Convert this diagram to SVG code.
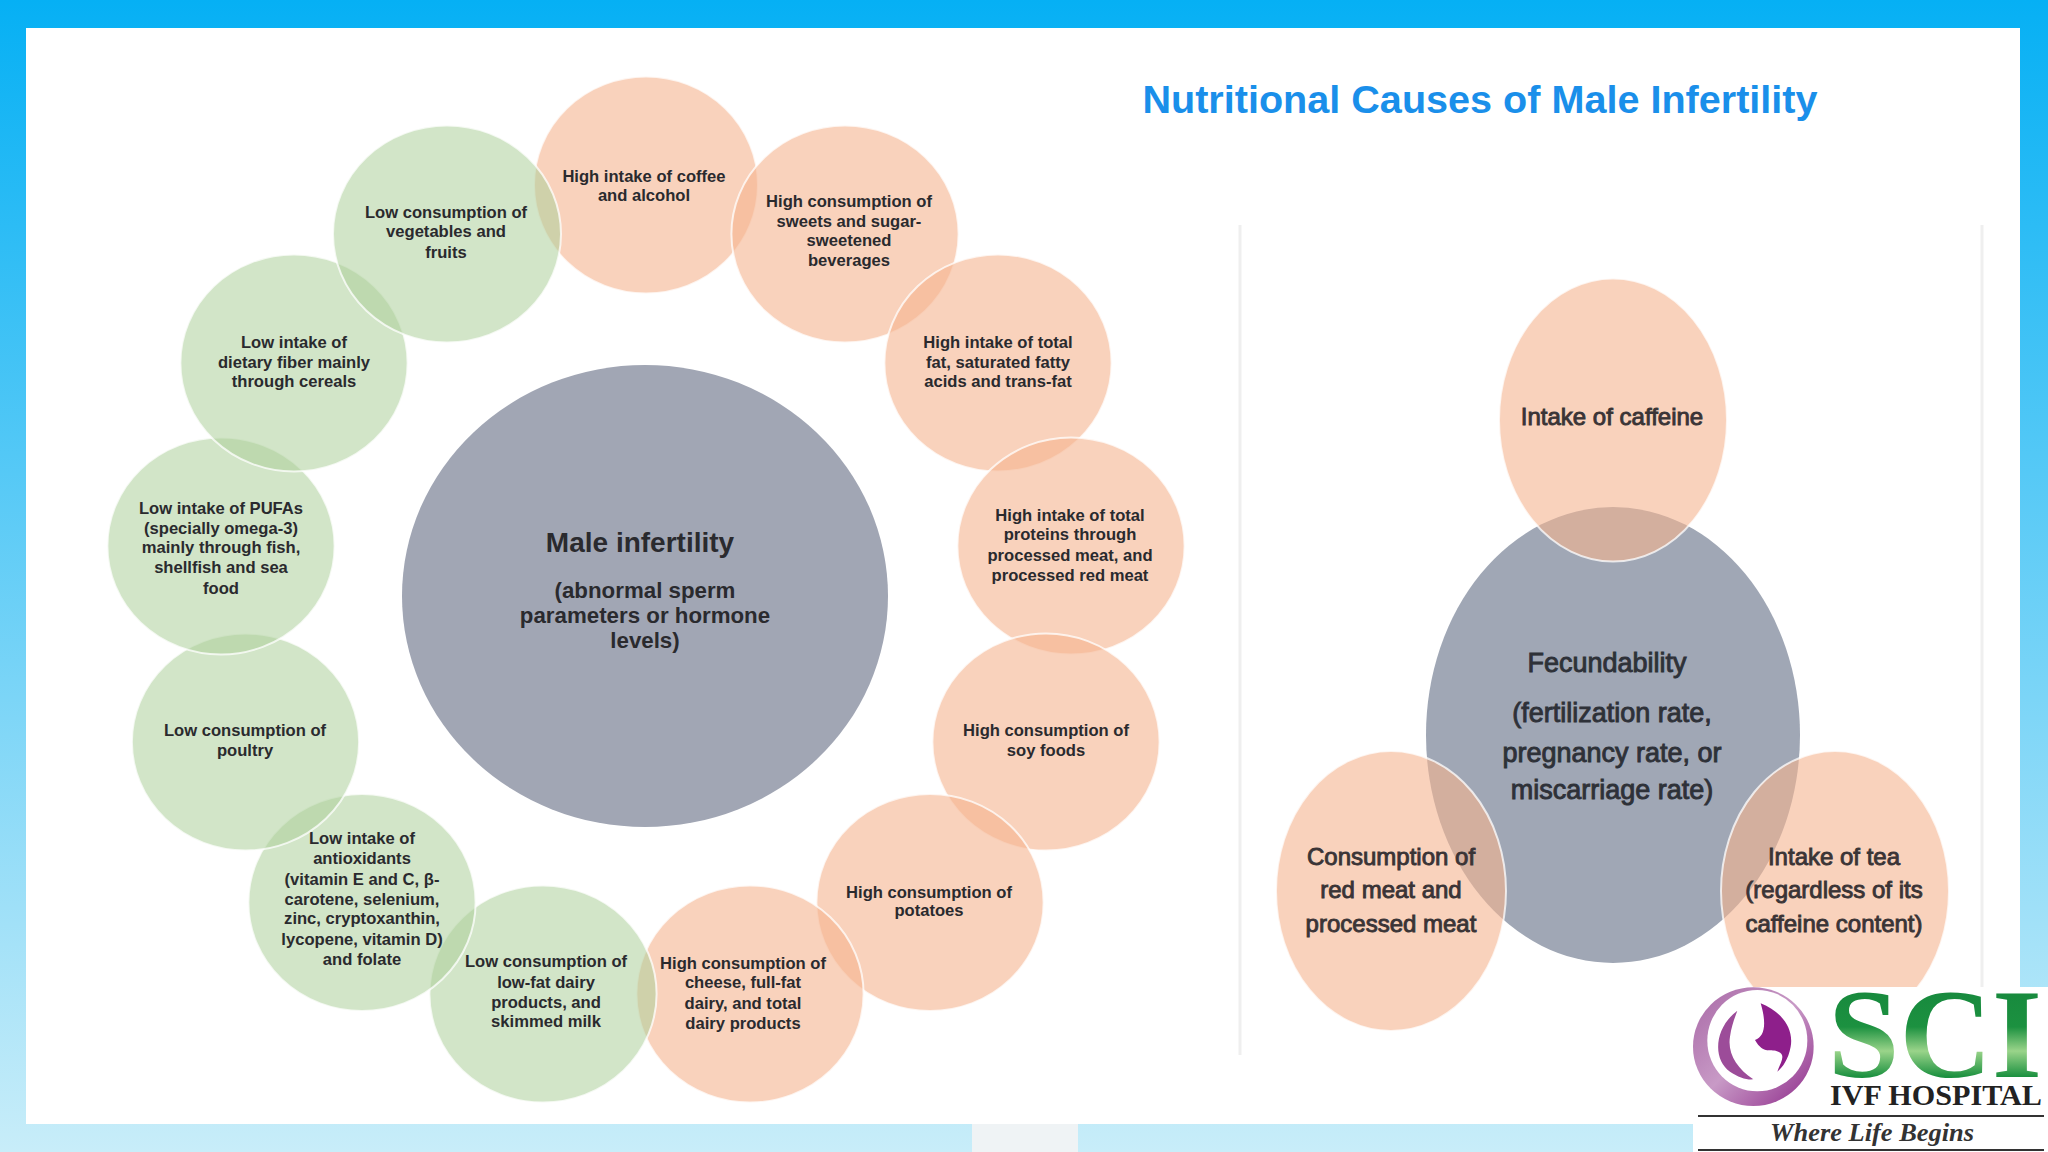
<svg xmlns="http://www.w3.org/2000/svg" width="2048" height="1152" viewBox="0 0 2048 1152">
<defs>
<linearGradient id="bg" x1="0" y1="0" x2="0" y2="1"><stop offset="0" stop-color="#06B0F4"/><stop offset="1" stop-color="#C8EDF9"/></linearGradient>
<linearGradient id="sci" x1="0" y1="0" x2="0" y2="1"><stop offset="0" stop-color="#14843C"/><stop offset=".45" stop-color="#1C9140"/><stop offset=".62" stop-color="#9AD48A"/><stop offset=".8" stop-color="#1C9140"/><stop offset="1" stop-color="#14843C"/></linearGradient>
<linearGradient id="ring" x1="0" y1="0" x2="1" y2="1"><stop offset="0" stop-color="#A868A6"/><stop offset=".5" stop-color="#C89AC6"/><stop offset="1" stop-color="#8E2A8A"/></linearGradient>
</defs>
<style>
.p{fill:#F5B48F;fill-opacity:.6;stroke:#fff;stroke-opacity:.75;stroke-width:2}
.g{fill:#ADCF9B;fill-opacity:.55;stroke:#fff;stroke-opacity:.75;stroke-width:2}
.c{fill:#A1A6B4}
.c2{fill:#A0A7B5}
text{font-family:"Liberation Sans",Arial,sans-serif;text-anchor:middle;fill:#2A2A2E}
.s{font-size:16.6px;font-weight:700}
.m{font-size:22.3px;font-weight:700}
.r{font-size:24px;font-weight:400;fill:#3A3436;stroke:#3A3436;stroke-width:.9}
.f{font-size:27px;font-weight:400;fill:#2E3138;stroke:#2E3138;stroke-width:.9}
</style>
<rect width="2048" height="1152" fill="url(#bg)"/>
<rect x="26" y="28" width="1994" height="1096" fill="#fff"/>
<rect x="972" y="1124" width="106" height="28" fill="#EFF3F5"/>
<path d="M1240 225V1055M1982 225V1055" stroke="#EFEFEF" stroke-width="3" fill="none"/>
<text x="1480" y="113" style="font-size:39.6px;font-weight:700;fill:#1A8FEA">Nutritional Causes of Male Infertility</text>

<g id="center-male-infertility"><ellipse class="c" cx="645" cy="596" rx="243" ry="231"/>
<text x="640" y="552" style="font-size:28px;font-weight:700">Male infertility</text>
<text class="m"><tspan x="645" y="598">(abnormal sperm</tspan><tspan x="645" y="623">parameters or hormone</tspan><tspan x="645" y="648">levels)</tspan></text></g>

<g id="node-coffee"><ellipse class="p" cx="646" cy="185" rx="112" ry="108.5"/><text class="s"><tspan x="644" y="182">High intake of coffee</tspan><tspan x="644" y="201">and alcohol</tspan></text></g>
<g id="node-sweets"><ellipse class="p" cx="845" cy="234" rx="113.6" ry="108.5"/><text class="s"><tspan x="849" y="207">High consumption of</tspan><tspan x="849" y="227">sweets and sugar-</tspan><tspan x="849" y="246">sweetened</tspan><tspan x="849" y="266">beverages</tspan></text></g>
<g id="node-fat"><ellipse class="p" cx="998" cy="363" rx="113.6" ry="108.5"/><text class="s"><tspan x="998" y="348">High intake of total</tspan><tspan x="998" y="368">fat, saturated fatty</tspan><tspan x="998" y="387">acids and trans-fat</tspan></text></g>
<g id="node-proteins"><ellipse class="p" cx="1071" cy="546" rx="113.6" ry="108.5"/><text class="s"><tspan x="1070" y="521">High intake of total</tspan><tspan x="1070" y="540">proteins through</tspan><tspan x="1070" y="561">processed meat, and</tspan><tspan x="1070" y="581">processed red meat</tspan></text></g>
<g id="node-soy"><ellipse class="p" cx="1046" cy="742" rx="113.6" ry="108.5"/><text class="s"><tspan x="1046" y="736">High consumption of</tspan><tspan x="1046" y="756">soy foods</tspan></text></g>
<g id="node-potatoes"><ellipse class="p" cx="930" cy="902.5" rx="113.6" ry="108.5"/><text class="s"><tspan x="929" y="898">High consumption of</tspan><tspan x="929" y="916">potatoes</tspan></text></g>
<g id="node-cheese"><ellipse class="p" cx="750" cy="994" rx="113.6" ry="108.5"/><text class="s"><tspan x="743" y="969">High consumption of</tspan><tspan x="743" y="988">cheese, full-fat</tspan><tspan x="743" y="1009">dairy, and total</tspan><tspan x="743" y="1029">dairy products</tspan></text></g>
<g id="node-lowfat"><ellipse class="g" cx="543" cy="994" rx="113.6" ry="108.5"/><text class="s"><tspan x="546" y="967">Low consumption of</tspan><tspan x="546" y="988">low-fat dairy</tspan><tspan x="546" y="1008">products, and</tspan><tspan x="546" y="1027">skimmed milk</tspan></text></g>
<g id="node-antioxidants"><ellipse class="g" cx="362" cy="902.5" rx="113.6" ry="108.5"/><text class="s"><tspan x="362" y="844">Low intake of</tspan><tspan x="362" y="864">antioxidants</tspan><tspan x="362" y="885">(vitamin E and C, β-</tspan><tspan x="362" y="905">carotene, selenium,</tspan><tspan x="362" y="924">zinc, cryptoxanthin,</tspan><tspan x="362" y="945">lycopene, vitamin D)</tspan><tspan x="362" y="965">and folate</tspan></text></g>
<g id="node-poultry"><ellipse class="g" cx="245.5" cy="742" rx="113.6" ry="108.5"/><text class="s"><tspan x="245" y="736">Low consumption of</tspan><tspan x="245" y="756">poultry</tspan></text></g>
<g id="node-pufa"><ellipse class="g" cx="221" cy="546" rx="113.6" ry="108.5"/><text class="s"><tspan x="221" y="514">Low intake of PUFAs</tspan><tspan x="221" y="534">(specially omega-3)</tspan><tspan x="221" y="553">mainly through fish,</tspan><tspan x="221" y="573">shellfish and sea</tspan><tspan x="221" y="594">food</tspan></text></g>
<g id="node-fiber"><ellipse class="g" cx="294" cy="363" rx="113.6" ry="108.5"/><text class="s"><tspan x="294" y="348">Low intake of</tspan><tspan x="294" y="368">dietary fiber mainly</tspan><tspan x="294" y="387">through cereals</tspan></text></g>
<g id="node-vegetables"><ellipse class="g" cx="447" cy="234" rx="114" ry="108.5"/><text class="s"><tspan x="446" y="218">Low consumption of</tspan><tspan x="446" y="237">vegetables and</tspan><tspan x="446" y="258">fruits</tspan></text></g>

<g id="center-fecundability"><ellipse class="c2" cx="1613" cy="735" rx="187" ry="228"/>
<text class="f"><tspan x="1607" y="672">Fecundability</tspan><tspan x="1612" y="722">(fertilization rate,</tspan><tspan x="1612" y="762">pregnancy rate, or</tspan><tspan x="1612" y="799">miscarriage rate)</tspan></text></g>
<g id="node-caffeine"><ellipse class="p" cx="1613" cy="420" rx="114" ry="141.5"/><text class="r" x="1612" y="425">Intake of caffeine</text></g>
<g id="node-red-meat"><ellipse class="p" cx="1391" cy="891" rx="115" ry="140"/><text class="r"><tspan x="1391" y="865">Consumption of</tspan><tspan x="1391" y="898">red meat and</tspan><tspan x="1391" y="932">processed meat</tspan></text></g>
<g id="node-tea"><ellipse class="p" cx="1835" cy="891" rx="114" ry="140"/><text class="r"><tspan x="1834" y="865">Intake of tea</tspan><tspan x="1834" y="898">(regardless of its</tspan><tspan x="1834" y="932">caffeine content)</tspan></text></g>

<g id="logo">
<rect x="1693" y="987" width="355" height="165" fill="#fff"/>
<g transform="translate(1640 940) scale(.3333)">
<ellipse cx="340" cy="320" rx="181" ry="178" fill="url(#ring)"/>
<ellipse cx="352" cy="302" rx="150" ry="152" fill="#fff"/>
<path d="M292 212C225 262 215 355 270 395C295 412 320 420 340 418C290 385 262 340 270 290C275 255 285 232 292 212Z" fill="#9C4C99"/>
<path d="M362 190C425 215 462 265 452 320C445 360 425 385 412 395C420 370 440 345 415 335C395 325 370 345 345 300C375 290 380 250 362 190Z" fill="#8E1F8B"/>
</g>
<text x="1935" y="1077" textLength="214" lengthAdjust="spacingAndGlyphs" style="font-family:'Liberation Serif',serif;font-size:128px;font-weight:700;fill:url(#sci)">SCI</text>
<text x="1936" y="1105" textLength="212" lengthAdjust="spacingAndGlyphs" style="font-family:'Liberation Serif',serif;font-size:29px;font-weight:700;fill:#222">IVF HOSPITAL</text>
<path d="M1698 1116H2044M1698 1150H2044" stroke="#333" stroke-width="2"/>
<text x="1872" y="1141" textLength="204" lengthAdjust="spacingAndGlyphs" style="font-family:'Liberation Serif',serif;font-size:25px;font-weight:700;font-style:italic;fill:#333">Where Life Begins</text>
</g>
</svg>
